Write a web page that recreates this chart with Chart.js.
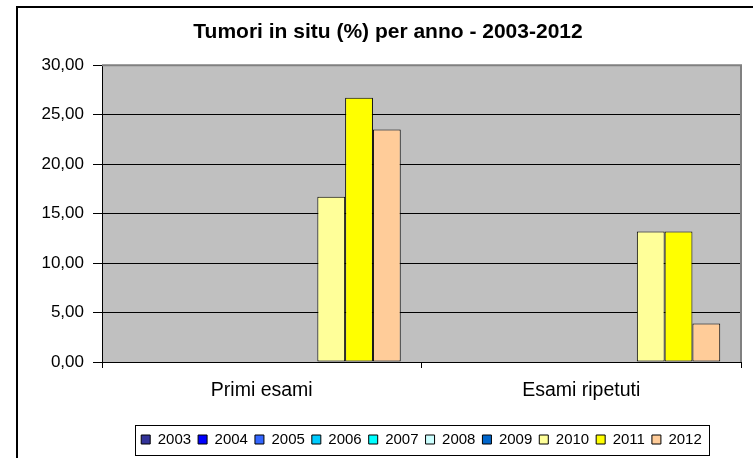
<!DOCTYPE html>
<html>
<head>
<meta charset="utf-8">
<script src="https://cdn.jsdelivr.net/npm/chart.js@4/dist/chart.umd.min.js"></script>
<style>
  html, body { margin: 0; padding: 0; background: #fff; overflow: hidden; }
  #wrap { width: 753px; height: 458px; }
</style>
</head>
<body>
<div id="wrap"><canvas id="c" width="753" height="458"></canvas></div>
<script>
const categories = ['Primi esami', 'Esami ripetuti'];
const years = ['2003', '2004', '2005', '2006', '2007', '2008', '2009', '2010', '2011', '2012'];
const yearColors = ['#333399', '#0000FF', '#3366FF', '#00CCFF', '#00FFFF', '#CCFFFF', '#0066CC', '#FFFF99', '#FFFF00', '#FFCC99'];
// percentages per year, [Primi esami, Esami ripetuti]
const v2003 = [null, null];
const v2004 = [null, null];
const v2005 = [null, null];
const v2006 = [null, null];
const v2007 = [null, null];
const v2008 = [null, null];
const v2009 = [null, null];
const v2010 = [16.7, 13.2];
const v2011 = [26.7, 13.2];
const v2012 = [23.5, 3.9];
const yTicks = [0, 5, 10, 15, 20, 25, 30];

const seriesValues = [v2003, v2004, v2005, v2006, v2007, v2008, v2009, v2010, v2011, v2012];
const FONT = '"Liberation Sans", Arial, sans-serif';

// grey plot area, frame around the whole chart and around the legend
const excelFrame = {
  id: 'excelFrame',
  beforeDraw(chart) {
    const { ctx, chartArea: a } = chart;
    ctx.save();
    ctx.fillStyle = '#fff';
    ctx.fillRect(0, 0, chart.width, chart.height);
    ctx.fillStyle = '#C0C0C0';
    ctx.fillRect(a.left, a.top, a.right - a.left, a.bottom - a.top);
    ctx.strokeStyle = '#000';
    ctx.lineWidth = 2;
    ctx.strokeRect(17, 7, 900, 600);
    ctx.restore();
  },
  beforeDatasetsDraw(chart) {
    const { ctx, chartArea: a } = chart;
    ctx.save();
    ctx.strokeStyle = '#808080';
    ctx.lineWidth = 2;
    ctx.beginPath();
    ctx.moveTo(a.left, a.top);
    ctx.lineTo(a.right, a.top);
    ctx.lineTo(a.right, a.bottom);
    ctx.stroke();
    ctx.restore();
  },
  afterDraw(chart) {
    const lg = chart.legend;
    if (!lg || !lg.legendHitBoxes.length) return;
    const hb = lg.legendHitBoxes;
    const left = Math.min(...hb.map(b => b.left)) - 6;
    const right = Math.max(...hb.map(b => b.left + b.width)) + 7;
    const cy = hb[0].top + hb[0].height / 2;
    const { ctx } = chart;
    ctx.save();
    ctx.strokeStyle = '#000';
    ctx.lineWidth = 1;
    ctx.strokeRect(Math.round(left) + 0.5, Math.round(cy - 15) + 0.5, Math.round(right - left), 30);
    ctx.restore();
  }
};

new Chart(document.getElementById('c'), {
  type: 'bar',
  data: {
    labels: categories,
    datasets: years.map((y, i) => ({
      label: y,
      data: seriesValues[i],
      backgroundColor: yearColors[i],
      borderColor: '#000',
      borderWidth: 1,
      borderSkipped: false,
      categoryPercentage: 0.87,
      barPercentage: 1.0
    }))
  },
  options: {
    responsive: false,
    animation: false,
    layout: { padding: { left: 35, right: 12, top: 0, bottom: 1 } },
    plugins: {
      title: {
        display: true,
        text: 'Tumori in situ (%) per anno - 2003-2012',
        color: '#000',
        font: { family: FONT, size: 21, weight: 'bold' },
        padding: { top: 20, bottom: 20 }
      },
      legend: {
        position: 'bottom',
        fullSize: false,
        labels: {
          color: '#000',
          font: { family: FONT, size: 15 },
          boxWidth: 9,
          boxHeight: 9,
          padding: 7
        }
      },
      tooltip: { enabled: false }
    },
    scales: {
      x: {
        offset: true,
        grid: { display: true, offset: true, drawOnChartArea: false, drawTicks: true, tickLength: 6, color: '#000' },
        border: { display: true, color: '#000', width: 1 },
        ticks: { color: '#000', font: { family: FONT, size: 19.5 }, padding: 11, maxRotation: 0 },
        afterFit(scale) { scale.height = 63; }
      },
      y: {
        min: 0,
        max: 30,
        afterBuildTicks(scale) { scale.ticks = yTicks.map(v => ({ value: v })); },
        grid: { color: '#000', lineWidth: 1, drawTicks: true, tickLength: 9 },
        border: { display: true, color: '#000', width: 1 },
        ticks: {
          color: '#000',
          font: { family: FONT, size: 17 },
          padding: 9,
          callback: v => v.toFixed(2).replace('.', ',')
        },
        afterFit(scale) { scale.width = 67; }
      }
    }
  },
  plugins: [excelFrame]
});
</script>
</body>
</html>
